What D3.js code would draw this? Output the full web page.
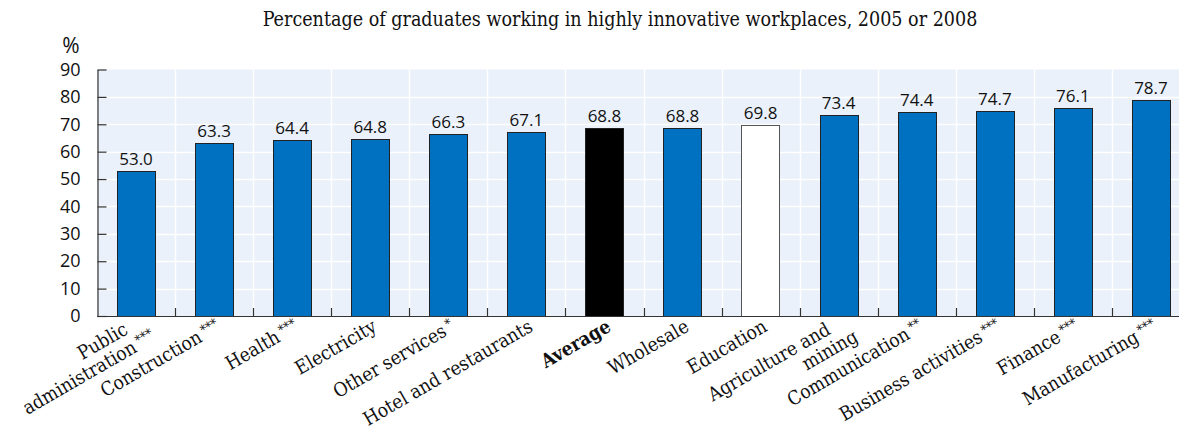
<!DOCTYPE html>
<html>
<head>
<meta charset="utf-8">
<script src="https://cdn.jsdelivr.net/npm/d3@7"></script>
<style>
  html, body { margin: 0; padding: 0; background: #ffffff; }
  svg { display: block; }
</style>
</head>
<body>
<svg id="chart" width="1179" height="431"></svg>
<script>
// Share of graduates in highly innovative workplaces, by sector
const categories = [
  "Public\nadministration", "Construction", "Health", "Electricity",
  "Other services", "Hotel and restaurants", "Average", "Wholesale",
  "Education", "Agriculture and\nmining", "Communication",
  "Business activities", "Finance", "Manufacturing"
];
const significance = ["***", "***", "***", "", "*", "", "", "", "", "", "**", "***", "***", "***"];
const values = [53.0, 63.3, 64.4, 64.8, 66.3, 67.1, 68.8, 68.8, 69.8, 73.4, 74.4, 74.7, 76.1, 78.7];
const yTicks = [0, 10, 20, 30, 40, 50, 60, 70, 80, 90];
const titleText = "Percentage of graduates working in highly innovative workplaces, 2005 or 2008";
const unitText = "%";

const W = 1179, H = 431;
const margin = { left: 97, top: 69.5, bottom: 316 };
const plotRight = 1190; // plot continues slightly past the frame

const svg = d3.select("#chart");
const serif = "'DejaVu Serif Condensed', 'DejaVu Serif', 'Liberation Serif', serif";
const sans = "'Open Sans', 'Noto Sans', sans-serif";

const x = d3.scaleBand().domain(categories).range([margin.left, plotRight]).padding(0);
const y = d3.scaleLinear().domain([0, 90]).range([margin.bottom, margin.top]);

// plot background
svg.append("rect")
  .attr("x", margin.left).attr("y", y(90))
  .attr("width", plotRight - margin.left).attr("height", y(0) - y(90))
  .attr("fill", "#eaf1fa");

// horizontal grid
svg.append("g").selectAll("line").data(yTicks.filter(d => d > 0 && d < 90)).join("line")
  .attr("x1", margin.left).attr("x2", plotRight)
  .attr("y1", d => Math.round(y(d)) + 0.5).attr("y2", d => Math.round(y(d)) + 0.5)
  .attr("stroke", "#ffffff").attr("stroke-width", 1.5);

// vertical grid at category boundaries
const bounds = categories.slice(1).map(c => x(c));
svg.append("g").selectAll("line").data(bounds).join("line")
  .attr("x1", d => Math.round(d) + 0.5).attr("x2", d => Math.round(d) + 0.5)
  .attr("y1", y(90)).attr("y2", y(0))
  .attr("stroke", "#ffffff").attr("stroke-width", 1.5);

// bars
const barW = x.bandwidth() * 0.49;
const fillFor = c => c === "Average" ? "#000000" : (c === "Education" ? "#ffffff" : "#0070c0");
svg.append("g").selectAll("rect").data(categories).join("rect")
  .attr("x", (c) => Math.round(x(c) + (x.bandwidth() - barW) / 2) + 0.5)
  .attr("y", (c, i) => Math.round(y(values[i])) + 0.5)
  .attr("width", Math.round(barW))
  .attr("height", (c, i) => Math.round(y(0)) - Math.round(y(values[i])))
  .attr("fill", fillFor)
  .attr("stroke", c => c === "Education" ? "#555555" : "#222222")
  .attr("stroke-width", 1);

// value labels
svg.append("g").selectAll("text").data(categories).join("text")
  .attr("x", c => x(c) + x.bandwidth() / 2)
  .attr("y", (c, i) => y(values[i]) - 6)
  .attr("text-anchor", "middle")
  .attr("font-family", sans).attr("font-size", 17).attr("fill", "#111")
  .text((c, i) => values[i].toFixed(1));

// y axis
const yAxis = d3.axisLeft(y).tickValues(yTicks).tickSizeInner(-9).tickSizeOuter(0).tickPadding(17)
  .tickFormat(d3.format("d"));
const gy = svg.append("g").attr("transform", `translate(${margin.left + 0.5},0)`).call(yAxis);
gy.select(".domain").attr("stroke", "#333").attr("stroke-width", 1.2);
gy.selectAll(".tick line").attr("stroke", "#333").attr("stroke-width", 1.2);
gy.selectAll(".tick text").attr("font-family", sans).attr("font-size", 18).attr("fill", "#111");

// x axis line and boundary ticks
svg.append("line")
  .attr("x1", margin.left).attr("x2", plotRight)
  .attr("y1", Math.round(y(0)) + 0.5).attr("y2", Math.round(y(0)) + 0.5)
  .attr("stroke", "#333").attr("stroke-width", 1.2);
svg.append("g").selectAll("line").data(bounds).join("line")
  .attr("x1", d => Math.round(d) + 0.5).attr("x2", d => Math.round(d) + 0.5)
  .attr("y1", y(0)).attr("y2", y(0) - 8)
  .attr("stroke", "#333").attr("stroke-width", 1.2);

// unit label
svg.append("text")
  .attr("x", 71).attr("y", 53).attr("text-anchor", "middle")
  .attr("font-family", sans).attr("font-size", 21).attr("fill", "#111")
  .text(unitText);

// title, sized to its measured width
const title = svg.append("text")
  .attr("x", 620).attr("y", 26).attr("text-anchor", "middle")
  .attr("font-family", serif).attr("font-size", 16).attr("fill", "#111")
  .text(titleText);
const tw = title.node().getComputedTextLength();
title.attr("font-size", 16 * 715 / tw);

// category labels, rotated
const probe = svg.append("text").attr("font-family", serif).attr("font-size", 15).text("Hotel and restaurants");
const labelSize = 15 * 192 / probe.node().getComputedTextLength();
probe.remove();

const labels = svg.append("g");
categories.forEach((c, i) => {
  const cx = x(c) + x.bandwidth() / 2;
  const g = labels.append("g")
    .attr("transform", `translate(${cx + 0},${y(0) + 1}) rotate(-30)`);
  const lines = c.split("\n");
  const bold = c === "Average";
  lines.forEach((ln, j) => {
    const isLast = j === lines.length - 1;
    let dx = 0, dy;
    if (lines.length === 1) { dy = 0.8; }
    else if (j === 0) { dy = 0.55; dx = -14; }
    else { dy = 1.6; dx = 6; }
    const t = g.append("text")
      .attr("x", dx).attr("y", 0).attr("dy", dy + "em")
      .attr("text-anchor", "end")
      .attr("font-family", serif).attr("font-size", labelSize)
      .attr("font-weight", bold ? "bold" : "normal")
      .attr("fill", "#111");
    t.append("tspan").text(ln);
    if (isLast && significance[i]) {
      t.append("tspan").attr("font-size", labelSize * 0.7).attr("dy", "-0.4em").attr("dx", "0.25em")
        .text(significance[i]);
    }
  });
});
</script>
</body>
</html>
